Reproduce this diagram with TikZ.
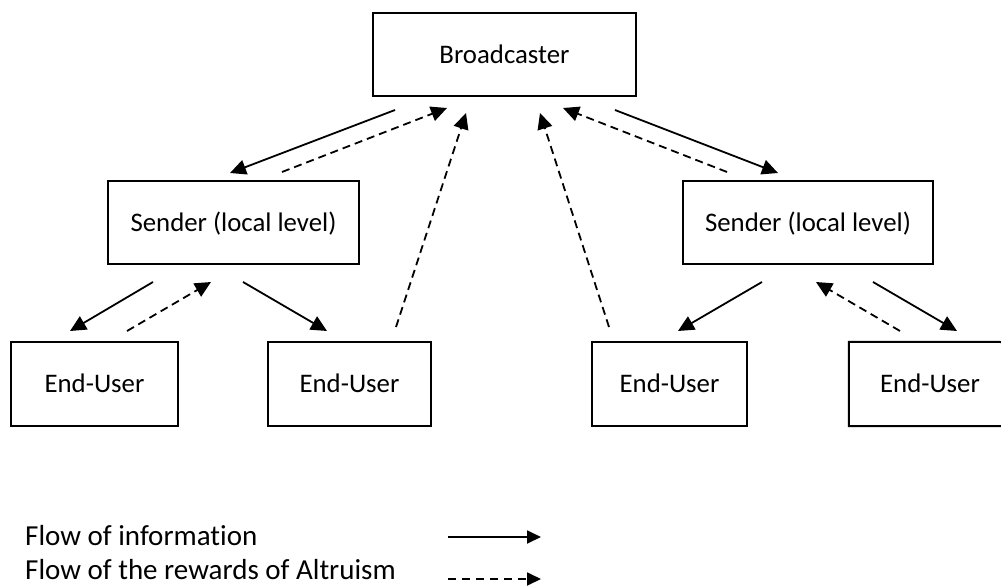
\documentclass[tikz,border=0pt]{standalone}
\usepackage{fontspec}
\setmainfont{Carlito}[Ligatures=NoCommon]
\usetikzlibrary{arrows.meta}
\begin{document}
\begin{tikzpicture}[x=1pt,y=-1pt,
  txt/.style={font=\fontsize{26.8}{31}\selectfont},
  legtxt/.style={font=\fontsize{29}{34}\selectfont, anchor=base west, inner sep=0pt},
  box/.style={txt, draw, line width=2pt, inner sep=0pt, text height=17.3pt, text depth=0pt, minimum height=83pt},
  openbox/.style={txt, inner sep=0pt, text height=17.3pt, text depth=0pt, minimum height=84pt},
  boxline/.style={line width=2pt},
  info/.style={line width=1.8pt, -{Triangle[length=16pt,width=15pt]}},
  reward/.style={info, dash pattern=on 8pt off 5pt}]
\useasboundingbox (0,0) rectangle (1001,588);
\fill[white] (0,0) rectangle (1001,588);

% boxes
\node[box, minimum width=263pt] (B) at (504.5,54.5) {Broadcaster};
\node[box, minimum width=251pt] (SL) at (233.5,222.5) {Sender (local level)};
\node[box, minimum width=250pt] (SR) at (808,222.5) {Sender (local level)};
\node[box, minimum width=167pt, minimum height=84pt] (E1) at (94.5,384) {End-User};
\node[box, minimum width=163pt, minimum height=84pt] (E2) at (349.5,384) {End-User};
\node[box, minimum width=155pt, minimum height=84pt] (E3) at (669.5,384) {End-User};
\node[openbox, minimum width=162pt] (E4) at (930,384) {End-User};
\coordinate (E4ne) at (1001,342);
\coordinate (E4se) at (1001,426);
\draw[boxline] (E4ne) -- (E4.north west) -- (E4.south west) -- (E4se);

% arrow end points
\coordinate (a1s) at (395,110); \coordinate (a1e) at (230,173);
\coordinate (a2s) at (282,172); \coordinate (a2e) at (447,108);
\coordinate (a3s) at (396,327); \coordinate (a3e) at (466,113);
\coordinate (a4s) at (609,327); \coordinate (a4e) at (540,113);
\coordinate (a5s) at (727,172); \coordinate (a5e) at (563,108);
\coordinate (a6s) at (615,110); \coordinate (a6e) at (778,173);

\coordinate (b1s) at (153,282); \coordinate (b1e) at (70,331);
\coordinate (b2s) at (127,331); \coordinate (b2e) at (211,282);
\coordinate (b3s) at (243,282); \coordinate (b3e) at (327,331);
\coordinate (b4s) at (762,282); \coordinate (b4e) at (678,331);
\coordinate (b5s) at (900,331); \coordinate (b5e) at (816,282);
\coordinate (b6s) at (873,282); \coordinate (b6e) at (957,331);

% Broadcaster <-> Senders / End-Users
\draw[info]   (a1s) -- (a1e);
\draw[reward] (a2s) -- (a2e);
\draw[reward] (a3s) -- (a3e);
\draw[reward] (a4s) -- (a4e);
\draw[reward] (a5s) -- (a5e);
\draw[info]   (a6s) -- (a6e);

% Senders <-> End-Users
\draw[info]   (b1s) -- (b1e);
\draw[reward] (b2s) -- (b2e);
\draw[info]   (b3s) -- (b3e);
\draw[info]   (b4s) -- (b4e);
\draw[reward] (b5s) -- (b5e);
\draw[info]   (b6s) -- (b6e);

% legend
\node[legtxt] (L1) at (25,545) {Flow of information};
\node[legtxt] (L2) at (25,579) {Flow of the rewards of Altruism};
\coordinate (l1s) at (448,537); \coordinate (l1e) at (541,537);
\coordinate (l2s) at (448,579); \coordinate (l2e) at (541,579);
\draw[info, -{Triangle[length=14pt,width=13pt]}] (l1s) -- (l1e);
\draw[reward, dash pattern=on 8pt off 6pt, -{Triangle[length=14pt,width=13pt]}] (l2s) -- (l2e);
\end{tikzpicture}
\end{document}
